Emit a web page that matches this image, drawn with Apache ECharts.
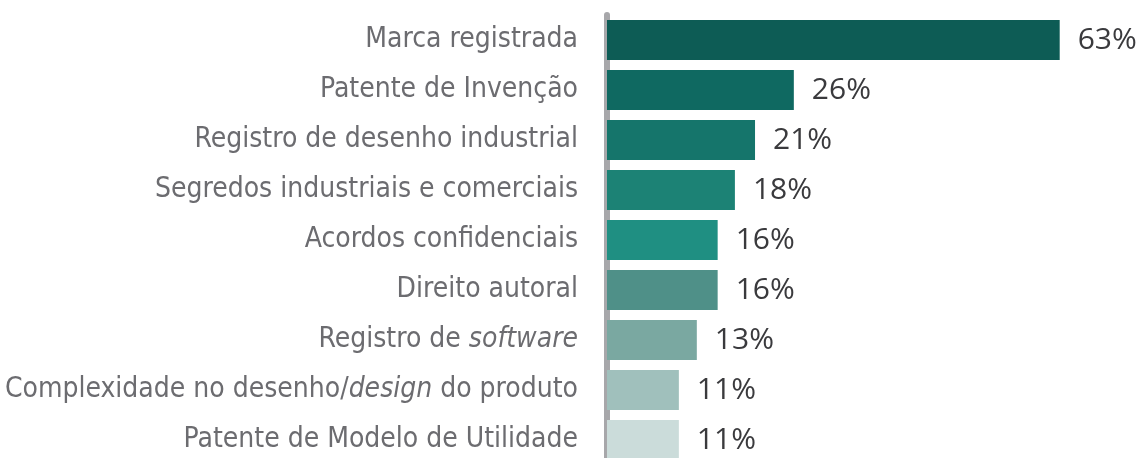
<!DOCTYPE html>
<html>
<head>
<meta charset="utf-8">
<script src="https://cdn.jsdelivr.net/npm/echarts@6/dist/echarts.min.js"></script>
<style>
  html, body { margin: 0; padding: 0; background: #fff; }
  #chart { width: 1140px; height: 458px; }
</style>
</head>
<body>
<div id="chart"></div>
<script>
// dados do gráfico
const categories = [
    'Marca registrada',
    'Patente de Invenção',
    'Registro de desenho industrial',
    'Segredos industriais e comerciais',
    'Acordos confidenciais',
    'Direito autoral',
    'Registro de software',
    'Complexidade no desenho/design do produto',
    'Patente de Modelo de Utilidade',
];
const values = [63, 26, 20.6, 17.8, 15.4, 15.4, 12.5, 10.0, 10.0];
const valueLabels = ['63%', '26%', '21%', '18%', '16%', '16%', '13%', '11%', '11%'];
const barColors = ['#0d5c55', '#0f6961', '#15756b', '#1c8275', '#1f8f82', '#4f9088', '#7aa8a1', '#a0c0bc', '#cbdcda'];
const italicWords = ['software', 'design'];

const labelFont = '"DejaVu Sans Condensed", "Liberation Sans Narrow", sans-serif';

// marca as palavras em itálico com rich text
function catLabel(name) {
    let out = name;
    italicWords.forEach(w => {
        out = out.replace(w, '{i|' + w + '}');
    });
    return '{n|' + out.replace(/\{i\|(\w+)\}/g, '}{i|$1}{n|') + '}';
}

const chart = echarts.init(document.getElementById('chart'));
const option = {
    animation: false,
    grid: {
        left: 607,
        right: 30,
        top: 15,
        height: 450,
        outerBoundsMode: 'none',
        containLabel: false,
    },
    xAxis: {
        type: 'value',
        min: 0,
        max: 70,
        show: false,
    },
    yAxis: {
        type: 'category',
        inverse: true,
        data: categories,
        offset: 3,
        axisTick: { show: false },
        axisLine: {
            show: true,
            lineStyle: { color: '#a7a7aa', width: 6 },
        },
        axisLabel: {
            margin: 26,
            formatter: catLabel,
            rich: {
                n: { fontFamily: labelFont, fontSize: 28, color: '#6c6c70' },
                i: { fontFamily: labelFont, fontSize: 28, color: '#6c6c70', fontStyle: 'italic' },
            },
        },
    },
    series: [{
        type: 'bar',
        barCategoryGap: '20%',
        data: values.map((v, i) => ({
            value: v,
            itemStyle: { color: barColors[i] },
        })),
        label: {
            show: true,
            position: 'right',
            distance: 18,
            fontFamily: '"Open Sans", sans-serif',
            fontSize: 30,
            color: '#3a3a3d',
            formatter: p => valueLabels[p.dataIndex],
        },
    }],
};
chart.setOption(option);
</script>
</body>
</html>
